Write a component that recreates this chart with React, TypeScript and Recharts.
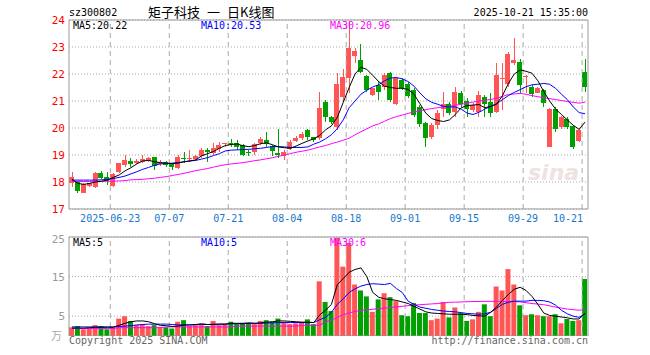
import { ComposedChart, Bar, Line, XAxis, YAxis, CartesianGrid, ReferenceLine, Cell } from 'recharts'

const RED = '#ff5555'
const GREEN = '#00a000'
const GRID = '#aaaaaa'
const FRAME = '#999999'
const MONO = "'DejaVu Sans Mono', monospace"
const CJK = "'Noto Sans CJK SC', sans-serif"

const dates = [
  '06-12', '06-13', '06-16', '06-17', '06-18', '06-19', '06-20',
  '06-23', '06-24', '06-25', '06-26', '06-27', '06-30',
  '07-01', '07-02', '07-03', '07-04',
  '07-07', '07-08', '07-09', '07-10', '07-11',
  '07-14', '07-15', '07-16', '07-17', '07-18',
  '07-21', '07-22', '07-23', '07-24', '07-25',
  '07-28', '07-29', '07-30', '07-31', '08-01',
  '08-04', '08-05', '08-06', '08-07', '08-08',
  '08-11', '08-12', '08-13', '08-14', '08-15',
  '08-18', '08-19', '08-20', '08-21', '08-22',
  '08-25', '08-26', '08-27', '08-28', '08-29',
  '09-01', '09-02', '09-03', '09-04', '09-05',
  '09-08', '09-09', '09-10', '09-11', '09-12',
  '09-15', '09-16', '09-17', '09-18', '09-19',
  '09-22', '09-23', '09-24', '09-25', '09-26',
  '09-29', '09-30', '10-09', '10-10',
  '10-13', '10-14', '10-15', '10-16', '10-17',
  '10-20', '10-21',
]
const tickDates = ['06-23', '07-07', '07-21', '08-04', '08-18', '09-01', '09-15', '09-29', '10-21']

const open = [
  17.95, 18.01, 17.61, 17.85, 17.83, 18.35, 18.17, 17.85, 18.38, 18.63,
  18.79, 18.69, 18.75, 18.79, 18.91, 18.65, 18.75, 18.65, 18.53, 18.9,
  18.84, 18.84, 18.96, 19.18, 19.09, 19.21, 19.4, 19.46, 19.43, 19.37,
  19.12, 19.12, 19.46, 19.55, 19.35, 19.09, 18.96, 19.22, 19.52, 19.64,
  19.93, 19.65, 19.62, 20.98, 20.4, 20.05, 21.16, 21.84, 22.67, 22.52,
  21.93, 21.22, 21.6, 21.53, 22.03, 20.89, 21.78, 21.62, 21.41, 20.79,
  20.17, 19.65, 20.11, 20.72, 20.88, 20.6, 21.31, 21.0, 20.67, 20.6,
  21.16, 20.98, 20.6, 21.82, 21.63, 22.42, 22.46, 21.88, 21.53, 21.31,
  21.41, 19.28, 20.72, 20.05, 20.32, 20.07, 19.53, 22.09,
]
const high = [
  18.38, 18.04, 17.95, 17.98, 18.38, 18.42, 18.38, 18.33, 18.72, 19.0,
  18.88, 18.84, 19.0, 18.94, 18.94, 18.81, 18.79, 18.69, 19.0, 19.1,
  19.18, 19.0, 19.27, 19.27, 19.46, 19.5, 19.46, 19.58, 19.55, 19.4,
  19.2, 19.43, 19.68, 19.86, 19.37, 19.95, 19.19, 19.56, 19.7, 19.86,
  19.95, 19.68, 21.35, 21.04, 20.44, 22.05, 22.2, 23.98, 22.95, 23.1,
  21.96, 21.5, 21.75, 22.03, 22.09, 21.9, 21.84, 21.7, 21.47, 20.85,
  20.23, 20.17, 20.67, 21.35, 20.98, 21.51, 21.38, 21.1, 20.91, 21.37,
  21.22, 21.28, 22.4, 22.4, 22.83, 23.32, 22.54, 21.95, 21.6, 21.53,
  21.43, 20.75, 20.79, 20.45, 20.4, 20.1, 19.98, 22.55,
]
const low = [
  17.83, 17.58, 17.58, 17.8, 17.78, 18.1, 17.9, 17.83, 18.35, 18.57,
  18.57, 18.65, 18.69, 18.75, 18.44, 18.6, 18.55, 18.44, 18.5, 18.7,
  18.75, 18.8, 18.88, 18.75, 19.0, 19.12, 19.3, 19.3, 19.2, 18.95,
  18.95, 19.0, 19.37, 19.3, 18.95, 18.88, 18.82, 19.19, 19.5, 19.56,
  19.56, 19.5, 19.56, 20.23, 20.15, 19.93, 21.0, 21.28, 22.4, 22.03,
  21.35, 21.2, 21.04, 21.41, 20.95, 20.85, 21.41, 21.12, 20.4, 20.05,
  19.28, 19.58, 19.95, 20.4, 20.48, 20.42, 20.79, 20.42, 20.6, 20.42,
  20.42, 20.42, 20.54, 20.67, 21.53, 22.33, 21.28, 21.3, 21.16, 21.28,
  20.77, 19.28, 19.86, 19.95, 19.95, 19.21, 19.47, 21.35,
]
const close = [
  18.17, 17.68, 17.91, 17.95, 18.32, 18.16, 18.05, 18.3, 18.69, 18.81,
  18.65, 18.79, 18.84, 18.88, 18.59, 18.75, 18.63, 18.57, 18.91, 18.86,
  18.88, 18.96, 19.18, 19.12, 19.27, 19.37, 19.43, 19.37, 19.28, 19.0,
  19.1, 19.41, 19.59, 19.41, 19.16, 19.0, 19.12, 19.49, 19.64, 19.78,
  19.68, 19.56, 20.73, 20.4, 20.23, 21.63, 21.9, 22.95, 22.86, 22.09,
  21.41, 21.47, 21.34, 21.96, 21.03, 21.84, 21.47, 21.2, 20.5, 20.15,
  19.62, 20.11, 20.57, 20.9, 20.54, 21.35, 20.89, 20.69, 20.85, 21.22,
  20.89, 20.57, 21.96, 21.86, 22.74, 22.52, 21.59, 21.92, 21.26, 21.47,
  20.92, 20.69, 19.98, 20.4, 20.05, 19.31, 19.93, 21.51,
]
// 成交量（万手）
const volume = [
  2.2, 2.5, 1.7, 1.9, 2.75, 2.5, 1.7, 2.2, 4.4, 5.0,
  3.8, 2.75, 3.0, 2.5, 2.75, 2.3, 2.2, 1.9, 3.6, 4.0,
  2.5, 2.75, 2.75, 2.5, 3.8, 2.75, 3.0, 3.6, 3.0, 3.3,
  3.3, 3.0, 3.8, 4.0, 3.6, 4.4, 3.6, 3.0, 3.2, 3.4,
  4.2, 3.0, 13.8, 8.6, 6.3, 24.8, 17.5, 23.5, 13.0, 11.5,
  10.0, 6.1, 9.25, 10.8, 9.8, 8.8, 5.25, 5.0, 8.3, 5.8,
  5.8, 4.0, 4.4, 8.6, 4.7, 7.2, 5.8, 3.8, 4.2, 6.1,
  8.0, 5.0, 12.5, 11.5, 16.9, 13.0, 7.75, 5.25, 5.5, 5.25,
  5.0, 5.0, 5.5, 3.2, 4.3, 3.8, 4.0, 14.4,
]

// moving averages
const ma5 = [
  18.1, 17.95, 17.91, 17.95, 18.0, 18.03, 18.07, 18.17, 18.26, 18.41,
  18.53, 18.67, 18.78, 18.8, 18.75, 18.72, 18.7, 18.68, 18.7, 18.75,
  18.78, 18.82, 18.97, 19.05, 19.13, 19.25, 19.35, 19.39, 19.41, 19.34,
  19.31, 19.35, 19.42, 19.45, 19.38, 19.3, 19.27, 19.25, 19.33, 19.43,
  19.52, 19.6, 19.72, 19.93, 20.08, 20.4, 20.95, 21.5, 22.0, 22.25,
  22.17, 21.95, 21.72, 21.55, 21.5, 21.47, 21.47, 21.43, 21.25, 20.9,
  20.55, 20.35, 20.28, 20.24, 20.3, 20.5, 20.75, 20.83, 20.85, 20.87,
  20.75, 20.8, 20.88, 21.2, 21.65, 22.0, 22.15, 22.1, 22.03, 21.75,
  21.35, 21.0, 20.7, 20.5, 20.3, 20.1, 19.95, 20.22,
]
const ma10 = [
  18.07, 18.07, 18.07, 18.07, 18.07, 18.08, 18.1, 18.13, 18.17, 18.22,
  18.3, 18.38, 18.47, 18.54, 18.62, 18.67, 18.68, 18.7, 18.72, 18.75,
  18.78, 18.8, 18.85, 18.9, 18.98, 19.05, 19.15, 19.18, 19.19, 19.2,
  19.21, 19.23, 19.25, 19.28, 19.31, 19.31, 19.3, 19.28, 19.28, 19.28,
  19.3, 19.4, 19.48, 19.6, 19.75, 19.98, 20.3, 20.75, 21.0, 21.25,
  21.4, 21.52, 21.6, 21.75, 21.85, 21.87, 21.82, 21.72, 21.55, 21.3,
  21.08, 20.95, 20.88, 20.8, 20.78, 20.78, 20.7, 20.55, 20.5, 20.58,
  20.7, 20.8, 20.9, 21.05, 21.2, 21.32, 21.42, 21.53, 21.6, 21.62,
  21.65, 21.62, 21.47, 21.25, 21.05, 20.78, 20.57, 20.53,
]
const ma30 = [
  18.02, 18.02, 18.02, 18.02, 18.02, 18.02, 18.03, 18.03, 18.04, 18.05,
  18.08, 18.09, 18.1, 18.12, 18.14, 18.17, 18.2, 18.24, 18.28, 18.32,
  18.37, 18.42, 18.46, 18.5, 18.55, 18.6, 18.64, 18.67, 18.69, 18.72,
  18.75, 18.79, 18.82, 18.86, 18.9, 18.95, 19.0, 19.05, 19.1, 19.14,
  19.18, 19.24, 19.3, 19.35, 19.42, 19.48, 19.55, 19.62, 19.75, 19.86,
  19.97, 20.08, 20.15, 20.25, 20.35, 20.42, 20.48, 20.54, 20.6, 20.64,
  20.68, 20.72, 20.75, 20.78, 20.8, 20.84, 20.88, 20.92, 20.96, 21.0,
  21.02, 21.06, 21.1, 21.17, 21.24, 21.26, 21.28, 21.25, 21.2, 21.16,
  21.12, 21.09, 21.05, 21.02, 20.98, 20.95, 20.92, 20.96,
]
const vma5 = [
  2.0, 2.0, 2.0, 2.1, 2.2, 2.2, 2.2, 2.2, 2.7, 3.2,
  3.6, 3.8, 3.8, 3.6, 3.1, 2.7, 2.6, 2.4, 2.5, 2.8,
  2.8, 2.9, 3.1, 2.9, 2.9, 3.0, 3.0, 3.2, 3.2, 3.2,
  3.3, 3.2, 3.3, 3.5, 3.6, 3.8, 3.8, 3.7, 3.6, 3.5,
  3.5, 3.4, 5.3, 6.5, 8.0, 13.0, 14.5, 16.1, 16.8, 17.2,
  15.0, 11.0, 9.8, 9.4, 9.2, 9.0, 8.6, 8.2, 7.5, 6.8,
  6.1, 5.8, 5.7, 5.6, 5.5, 5.5, 5.5, 5.4, 5.2, 5.1,
  5.0, 6.0, 7.3, 9.0, 10.5, 11.8, 12.3, 11.5, 10.0, 8.0,
  5.8, 5.2, 5.0, 4.8, 4.6, 4.3, 4.3, 5.8,
]
const vma10 = [
  2.3, 2.3, 2.3, 2.3, 2.3, 2.3, 2.3, 2.3, 2.4, 2.5,
  2.6, 2.8, 2.9, 3.0, 3.0, 3.0, 3.0, 2.9, 2.8, 2.8,
  2.8, 2.9, 2.9, 2.9, 3.0, 3.0, 3.0, 3.1, 3.1, 3.1,
  3.2, 3.2, 3.2, 3.3, 3.3, 3.4, 3.4, 3.4, 3.4, 3.4,
  3.4, 3.4, 4.1, 4.7, 6.0, 8.0, 9.4, 11.0, 11.9, 12.6,
  13.0, 13.2, 13.1, 13.0, 13.3, 12.0, 11.0, 8.8, 8.0, 7.3,
  7.0, 6.7, 6.5, 6.3, 6.2, 6.1, 5.9, 5.7, 5.6, 5.5,
  5.6, 6.0, 7.0, 8.0, 8.5, 8.8, 8.8, 8.8, 9.0, 9.0,
  8.9, 8.6, 7.8, 6.5, 5.6, 5.0, 4.7, 5.6,
]
const vma30 = [
  1.9, 1.9, 1.9, 1.9, 1.9, 1.9, 1.9, 1.9, 2.1, 2.1,
  2.1, 2.1, 2.1, 2.1, 2.1, 2.1, 2.3, 2.3, 2.3, 2.3,
  2.3, 2.3, 2.3, 2.3, 2.3, 2.3, 2.3, 2.3, 2.5, 2.5,
  2.5, 2.5, 2.5, 2.5, 2.5, 2.5, 2.5, 2.5, 2.5, 2.7,
  2.7, 2.7, 2.7, 3.6, 4.0, 4.7, 5.4, 5.8, 6.2, 6.5,
  6.6, 6.75, 6.9, 7.05, 7.2, 7.35, 7.5, 7.65, 7.8, 7.9,
  8.0, 8.1, 8.2, 8.35, 8.5, 8.55, 8.6, 8.65, 8.7, 8.72,
  8.75, 8.75, 8.75, 8.75, 8.7, 8.7, 8.6, 8.4, 8.2, 8.05,
  7.9, 7.6, 7.3, 7.05, 6.8, 6.65, 6.5, 6.7,
]

const priceTicks = [17, 18, 19, 20, 21, 22, 23, 24]
const volTicks = [0, 5, 10, 15, 20, 25]

const rows = dates.map((date, i) => ({
  date,
  open: open[i], high: high[i], low: low[i], close: close[i],
  range: [low[i], high[i]],
  vol: volume[i],
  ma5: ma5[i], ma10: ma10[i], ma30: ma30[i],
  vma5: vma5[i], vma10: vma10[i], vma30: vma30[i],
}))

function Candle(props: any) {
  const { x, y, width, height, payload } = props
  if (!payload) return null
  const top = Math.min(y, y + height)
  const h = Math.abs(height)
  const span = payload.high - payload.low || 1
  const py = (p: number) => top + ((payload.high - p) / span) * h
  const color = payload.close >= payload.open ? RED : GREEN
  const b1 = py(Math.max(payload.open, payload.close))
  const b2 = py(Math.min(payload.open, payload.close))
  const cx = Math.round(x + width / 2) + 0.5
  return (
    <g shapeRendering="crispEdges">
      <line x1={cx} x2={cx} y1={top} y2={top + h} stroke={color} strokeWidth={1} />
      <rect x={Math.round(x)} y={b1} width={Math.round(width)} height={Math.max(b2 - b1, 1)} fill={color} />
    </g>
  )
}

function PriceTick({ x, y, payload }: any) {
  return (
    <text x={x} y={y} dy={4} textAnchor="end" fill="#ff0000" fontSize={11} fontFamily={MONO}>
      {payload.value}
    </text>
  )
}

function VolTick({ x, y, payload }: any) {
  if (payload.value === 0) return null
  return (
    <text x={x} y={y} dy={4} textAnchor="end" fill="#999" fontSize={11} fontFamily={MONO}>
      {payload.value}
    </text>
  )
}

function DateTick({ x, y, payload }: any) {
  const last = payload.value === dates[dates.length - 1]
  const label = payload.value === '06-23' ? '2025-06-23' : payload.value
  return (
    <text x={last ? x - 2 : x - 3} y={y + 5} textAnchor={last ? 'end' : 'middle'}
      fill="#1877cc" fontSize={10} fontFamily={MONO}>
      {label}
    </text>
  )
}

const txt = (left: number, top: number, color: string, size = 10): React.CSSProperties => ({
  position: 'absolute', left, top, color, fontSize: size, fontFamily: MONO, lineHeight: `${size}px`, whiteSpace: 'nowrap',
})

const cjk = (left: number): React.CSSProperties => ({
  position: 'absolute', left, top: 5, fontSize: 13, lineHeight: '13px', color: '#000', fontFamily: CJK, whiteSpace: 'nowrap',
})

export default function App() {
  return (
    <div style={{ position: 'absolute', left: 0, top: 0, width: 650, height: 355, background: '#fff', overflow: 'hidden' }}>
      {/* watermark */}
      <div style={{ position: 'absolute', left: 528, top: 160, fontSize: 22, fontWeight: 'bold', fontStyle: 'italic',
        color: '#eee2e2', fontFamily: 'DejaVu Sans, sans-serif' }}>sina</div>

      <div style={{ position: 'absolute', left: 0, top: 0 }}>
        <ComposedChart width={650} height={230} data={rows} margin={{ top: 20, right: 62, bottom: 0, left: 0 }}>
          <CartesianGrid vertical={false} stroke={GRID} strokeDasharray="1 2" />
          <XAxis dataKey="date" ticks={tickDates} interval={0} height={21} tick={<DateTick />}
            tickLine={false} axisLine={{ stroke: FRAME }} />
          <YAxis domain={[17, 24]} ticks={priceTicks} width={69} tick={<PriceTick />} tickLine={false}
            tickSize={4} tickMargin={0} axisLine={{ stroke: FRAME }} allowDataOverflow />
          {tickDates.map(d => (
            <ReferenceLine key={d} x={d} position="start" stroke={GRID} strokeDasharray="5 4" />
          ))}
          <ReferenceLine y={24} stroke={FRAME} />
          <ReferenceLine x={dates[dates.length - 1]} position="end" stroke={FRAME} />
          <Bar dataKey="range" barSize={5} shape={<Candle />} isAnimationActive={false} />
          <Line dataKey="ma30" stroke="#ff00ff" strokeWidth={1} dot={false} isAnimationActive={false} />
          <Line dataKey="ma10" stroke="#0000ff" strokeWidth={1} dot={false} isAnimationActive={false} />
          <Line dataKey="ma5" stroke="#000000" strokeWidth={1} dot={false} isAnimationActive={false} />
        </ComposedChart>
      </div>

      <div style={{ position: 'absolute', left: 0, top: 230 }}>
        <ComposedChart width={650} height={106} data={rows} margin={{ top: 7, right: 62, bottom: 0, left: 0 }}>
          <CartesianGrid vertical={false} stroke={GRID} strokeDasharray="1 2" />
          <XAxis dataKey="date" hide />
          <YAxis domain={[0, 25]} ticks={volTicks} width={69} tick={<VolTick />} tickLine={false}
            tickSize={4} tickMargin={0} axisLine={{ stroke: FRAME }} allowDataOverflow />
          {tickDates.map(d => (
            <ReferenceLine key={d} x={d} position="start" stroke={GRID} strokeDasharray="5 4" />
          ))}
          <ReferenceLine y={25} stroke={FRAME} />
          <ReferenceLine y={0} stroke={FRAME} />
          <ReferenceLine x={dates[dates.length - 1]} position="end" stroke={FRAME} />
          <Bar dataKey="vol" barSize={5} isAnimationActive={false}>
            {rows.map((r, i) => <Cell key={i} fill={r.close >= r.open ? RED : GREEN} />)}
          </Bar>
          <Line dataKey="vma30" stroke="#ff00ff" strokeWidth={1} dot={false} isAnimationActive={false} />
          <Line dataKey="vma10" stroke="#0000ff" strokeWidth={1} dot={false} isAnimationActive={false} />
          <Line dataKey="vma5" stroke="#000000" strokeWidth={1} dot={false} isAnimationActive={false} />
        </ComposedChart>
      </div>

      {/* header */}
      <div style={txt(69, 8, '#000')}>sz300802</div>
      <div style={cjk(148)}>矩子科技</div>
      <div style={cjk(207)}>一</div>
      <div style={cjk(227)}>日K线图</div>
      <div style={{ ...txt(0, 8, '#000'), left: undefined, right: 62 }}>2025-10-21 15:35:00</div>

      {/* legends */}
      <div style={txt(73, 21, '#000')}>MA5:20.22</div>
      <div style={txt(201, 21, '#0000ff')}>MA10:20.53</div>
      <div style={txt(330, 21, '#ff00ff')}>MA30:20.96</div>
      <div style={txt(73, 238, '#000')}>MA5:5</div>
      <div style={txt(201, 238, '#0000ff')}>MA10:5</div>
      <div style={txt(330, 238, '#ff00ff')}>MA30:6</div>

      {/* volume unit */}
      <div style={{ position: 'absolute', left: 51, top: 330, fontSize: 11, lineHeight: '11px', color: '#aaa',
        fontFamily: CJK }}>万</div>

      {/* footer */}
      <div style={txt(69, 336, '#666')}>Copyright 2025 SINA.COM</div>
      <div style={{ ...txt(0, 336, '#666'), left: undefined, right: 62 }}>http://finance.sina.com.cn</div>
    </div>
  )
}
